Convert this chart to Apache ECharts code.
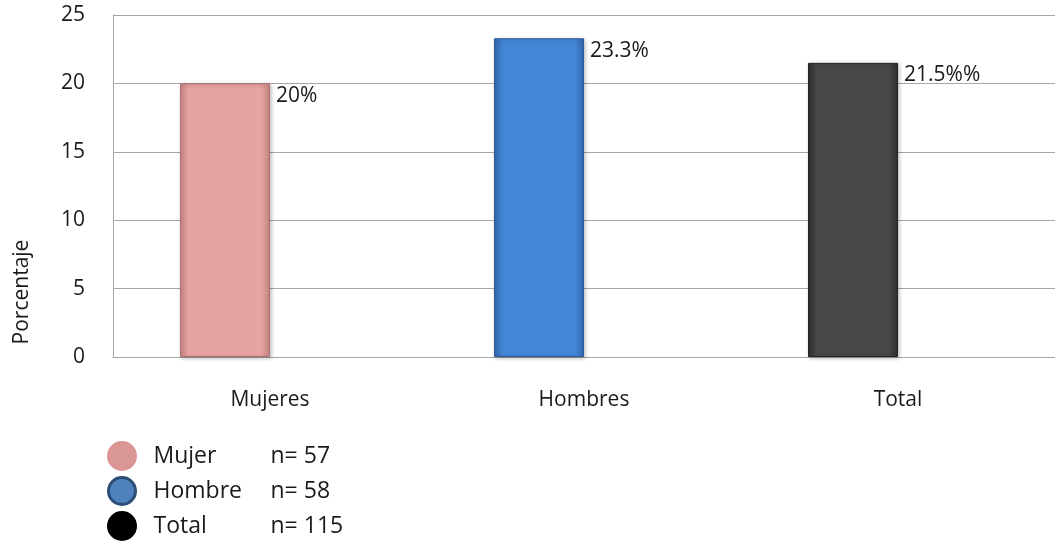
<!DOCTYPE html>
<html>
<head>
<meta charset="utf-8">
<script src="https://cdn.jsdelivr.net/npm/echarts@6/dist/echarts.min.js"></script>
<style>
  html, body { margin: 0; padding: 0; background: #fff; }
  #chart { width: 1055px; height: 546px; }
</style>
</head>
<body>
<div id="chart"></div>
<script>
// data
const categories = ['Mujeres', 'Hombres', 'Total']
const groups = ['Mujer', 'Hombre', 'Total']
const counts = [57, 58, 115]
const values = [20, 23.3, 21.5]
const labelTexts = ['20%', '23.3%', '21.5%%']

const barColors = [
  ['#c98684', '#e6a3a1', '#c98684'],
  ['#3468b0', '#4386d6', '#3468b0'],
  ['#2e2e2e', '#474747', '#2e2e2e']
]
const borderColors = ['#b07270', '#2d5a96', '#222222']
const legendColors = ['#d99694', '#4f81bd', '#000000']
const legendBorders = ['#d99694', '#2c4d75', '#000000']

const font = '"Open Sans", "DejaVu Sans", sans-serif'
const gray = '#a6a6a6'

const chart = echarts.init(document.getElementById('chart'))

const barSeries = groups.map((name, i) => {
  const c = barColors[i]
  return {
    name: name,
    type: 'bar',
    stack: 'g',
    barWidth: 90,
    barGap: '0%',
    data: categories.map((_, j) => (j === i ? values[i] : null)),
    itemStyle: {
      color: new echarts.graphic.LinearGradient(0, 0, 1, 0, [
        { offset: 0, color: c[0] },
        { offset: 0.1, color: c[1] },
        { offset: 0.9, color: c[1] },
        { offset: 1, color: c[2] }
      ]),
      borderColor: borderColors[i],
      borderWidth: 1,
      shadowColor: 'rgba(0,0,0,0.25)',
      shadowBlur: 4,
      shadowOffsetX: 1,
      shadowOffsetY: 1
    },
    label: {
      show: true,
      position: [96, 2],
      formatter: p => labelTexts[p.dataIndex],
      fontFamily: font,
      fontSize: 21,
      color: '#1a1a1a'
    }
  }
})

// empty series that takes the right half of each cluster, like the original
barSeries.push({
  name: 'pad',
  type: 'bar',
  barWidth: 90,
  data: categories.map(() => null)
})

const option = {
  animation: false,
  grid: { left: 113, right: 0, top: 15, bottom: 189, containLabel: false },
  xAxis: {
    type: 'category',
    data: categories,
    axisLine: { lineStyle: { color: gray } },
    axisTick: { show: false },
    axisLabel: { margin: 33, fontFamily: font, fontSize: 21, color: '#1a1a1a' }
  },
  yAxis: {
    type: 'value',
    min: 0,
    max: 25,
    interval: 5,
    axisLine: { show: true, lineStyle: { color: gray } },
    axisTick: { show: false },
    splitLine: { lineStyle: { color: gray } },
    axisLabel: { margin: 28, fontFamily: font, fontSize: 21, color: '#1a1a1a' }
  },
  legend: {
    orient: 'vertical',
    left: 107,
    top: 441,
    padding: 0,
    itemWidth: 27,
    itemHeight: 27,
    itemGap: 5,
    icon: 'circle',
    data: groups.map((g, i) => ({
      name: g,
      itemStyle: { color: legendColors[i], borderColor: legendBorders[i], borderWidth: 3 }
    })),
    formatter: name => {
      const i = groups.indexOf(name)
      return '{a|' + name + '}{b|n= ' + counts[i] + '}'
    },
    textStyle: {
      fontFamily: font,
      fontSize: 23,
      color: '#1a1a1a',
      padding: [0, 0, 0, 13],
      rich: {
        a: { width: 117, fontFamily: font, fontSize: 23, color: '#1a1a1a' },
        b: { fontFamily: font, fontSize: 23, color: '#1a1a1a' }
      }
    }
  },
  graphic: [{
    type: 'text',
    x: 22,
    y: 292,
    rotation: Math.PI / 2,
    style: {
      text: 'Porcentaje',
      fontFamily: font,
      fontSize: 21,
      fill: '#1a1a1a',
      align: 'center',
      verticalAlign: 'middle'
    }
  }],
  series: barSeries
}

chart.setOption(option)
</script>
</body>
</html>
